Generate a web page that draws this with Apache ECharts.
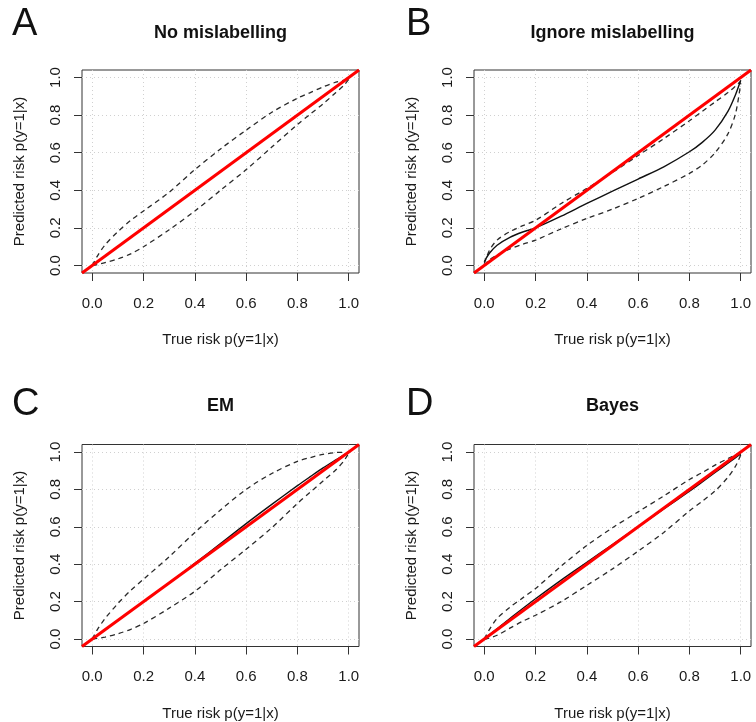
<!DOCTYPE html>
<html>
<head>
<meta charset="utf-8">
<title>Calibration</title>
<script src="https://cdn.jsdelivr.net/npm/echarts@6/dist/echarts.min.js"></script>
<style>
  html, body { margin: 0; padding: 0; background: #fff; }
  #chart { width: 756px; height: 722px; }
</style>
</head>
<body>
<div id="chart"></div>
<script>
  // values
  var panelLetters = ['A', 'B', 'C', 'D']
  var panelTitles = ['No mislabelling', 'Ignore mislabelling', 'EM', 'Bayes']
  var tickValues = [0, 0.2, 0.4, 0.6, 0.8, 1.0]
  var axisRange = [-0.04, 1.04]
  var refLine = [-0.04, 1.04]

  // true risk grid shared by every curve
  var trueRisk = [0, 0.02, 0.05, 0.1, 0.15, 0.2, 0.3, 0.4, 0.5, 0.6, 0.7, 0.8, 0.85, 0.9, 0.95, 0.98, 1.0]

  // A: no mislabelling
  var fitA = [0, 0.02, 0.05, 0.1, 0.15, 0.2, 0.3, 0.4, 0.5, 0.6, 0.7, 0.8, 0.85, 0.9, 0.95, 0.98, 1.0]
  var upperA = [0, 0.05, 0.11, 0.18, 0.24, 0.29, 0.39, 0.51, 0.62, 0.72, 0.815, 0.89, 0.92, 0.95, 0.975, 0.985, 0.99]
  var lowerA = [0, 0.005, 0.015, 0.035, 0.062, 0.10, 0.19, 0.29, 0.40, 0.51, 0.63, 0.75, 0.805, 0.86, 0.92, 0.957, 0.99]

  // B: ignore mislabelling
  var fitB = [0.02, 0.065, 0.108, 0.15, 0.178, 0.2, 0.262, 0.33, 0.395, 0.46, 0.525, 0.605, 0.655, 0.72, 0.82, 0.91, 0.985]
  var upperB = [0.01, 0.08, 0.135, 0.18, 0.212, 0.24, 0.33, 0.41, 0.495, 0.585, 0.675, 0.77, 0.82, 0.87, 0.92, 0.955, 0.98]
  var lowerB = [0, 0.03, 0.055, 0.088, 0.113, 0.135, 0.195, 0.25, 0.30, 0.357, 0.42, 0.49, 0.535, 0.60, 0.70, 0.81, 0.97]

  // C: EM
  var fitC = [0, 0.02, 0.05, 0.1, 0.15, 0.2, 0.3, 0.405, 0.51, 0.617, 0.72, 0.82, 0.868, 0.915, 0.958, 0.983, 1.0]
  var upperC = [0, 0.05, 0.11, 0.19, 0.26, 0.32, 0.44, 0.57, 0.69, 0.80, 0.885, 0.95, 0.97, 0.987, 0.997, 0.998, 0.995]
  var lowerC = [0, 0.003, 0.01, 0.028, 0.052, 0.083, 0.165, 0.255, 0.37, 0.48, 0.595, 0.725, 0.785, 0.845, 0.905, 0.95, 0.995]

  // D: Bayes
  var fitD = [0, 0.022, 0.055, 0.11, 0.163, 0.215, 0.315, 0.41, 0.505, 0.6, 0.695, 0.79, 0.84, 0.89, 0.94, 0.97, 0.99]
  var upperD = [0, 0.05, 0.11, 0.17, 0.22, 0.27, 0.39, 0.50, 0.595, 0.68, 0.765, 0.853, 0.89, 0.93, 0.965, 0.985, 0.995]
  var lowerD = [0, 0.005, 0.02, 0.058, 0.095, 0.127, 0.2, 0.287, 0.375, 0.47, 0.57, 0.685, 0.737, 0.792, 0.865, 0.925, 0.985]

  var fits = [fitA, fitB, fitC, fitD]
  var uppers = [upperA, upperB, upperC, upperD]
  var lowers = [lowerA, lowerB, lowerC, lowerD]

  // plot boxes in pixels
  var boxes = [
    { left: 82, top: 70, width: 277, height: 203 },
    { left: 474, top: 70, width: 277, height: 203 },
    { left: 82, top: 444.5, width: 277, height: 203 },
    { left: 474, top: 444.5, width: 277, height: 203 }
  ]

  var font = "'Liberation Sans', Arial, Helvetica, sans-serif"
  var inkColor = '#1a1a1a'

  function pairs(xs, ys) {
    var out = []
    for (var i = 0; i < xs.length; i++) {
      out.push([xs[i], ys[i]])
    }
    return out
  }

  var grids = []
  var xAxes = []
  var yAxes = []
  var series = []
  var graphics = []

  for (var p = 0; p < 4; p++) {
    var b = boxes[p]
    grids.push({
      left: b.left,
      top: b.top,
      width: b.width,
      height: b.height,
      show: true,
      borderColor: '#333',
      borderWidth: 1,
      containLabel: false
    })
    xAxes.push({
      gridIndex: p,
      type: 'value',
      min: axisRange[0],
      max: axisRange[1],
      name: 'True risk p(y=1|x)',
      nameLocation: 'middle',
      nameGap: 59.5,
      nameTextStyle: { fontFamily: font, fontSize: 15, color: inkColor },
      axisLine: { show: false, onZero: false },
      axisTick: {
        show: true,
        length: 8,
        customValues: tickValues,
        lineStyle: { color: '#333', width: 1 }
      },
      axisLabel: {
        show: true,
        customValues: tickValues,
        margin: 23,
        fontFamily: font,
        fontSize: 15,
        color: inkColor,
        formatter: function (v) { return v.toFixed(1) }
      },
      splitLine: {
        show: true,
        lineStyle: { color: '#d0d0d0', width: 1, type: [1, 3] }
      }
    })
    yAxes.push({
      gridIndex: p,
      type: 'value',
      min: axisRange[0],
      max: axisRange[1],
      name: 'Predicted risk p(y=1|x)',
      nameLocation: 'middle',
      nameGap: 55,
      nameTextStyle: { fontFamily: font, fontSize: 15, color: inkColor },
      axisLine: { show: false, onZero: false },
      axisTick: {
        show: true,
        length: 8,
        customValues: tickValues,
        lineStyle: { color: '#333', width: 1 }
      },
      axisLabel: {
        show: true,
        rotate: 90,
        customValues: tickValues,
        margin: 19,
        fontFamily: font,
        fontSize: 15,
        color: inkColor,
        formatter: function (v) { return v.toFixed(1) }
      },
      splitLine: {
        show: true,
        lineStyle: { color: '#d0d0d0', width: 1, type: [1, 3] }
      }
    })

    series.push({
      type: 'line',
      xAxisIndex: p,
      yAxisIndex: p,
      data: pairs(trueRisk, uppers[p]),
      smooth: 0.3,
      showSymbol: false,
      lineStyle: { color: '#2a2a2a', width: 1.3, type: [5, 4] }
    })
    series.push({
      type: 'line',
      xAxisIndex: p,
      yAxisIndex: p,
      data: pairs(trueRisk, lowers[p]),
      smooth: 0.3,
      showSymbol: false,
      lineStyle: { color: '#2a2a2a', width: 1.3, type: [5, 4] }
    })
    series.push({
      type: 'line',
      xAxisIndex: p,
      yAxisIndex: p,
      data: pairs(trueRisk, fits[p]),
      smooth: 0.3,
      showSymbol: false,
      lineStyle: { color: '#111', width: 1.4 }
    })
    series.push({
      type: 'line',
      xAxisIndex: p,
      yAxisIndex: p,
      data: [[refLine[0], refLine[0]], [refLine[1], refLine[1]]],
      showSymbol: false,
      lineStyle: { color: '#ff0000', width: 3 }
    })

    var cx = b.left + b.width / 2
    var titleY = p < 2 ? 33 : 406.5
    graphics.push({
      type: 'text',
      x: cx,
      y: titleY,
      style: {
        text: panelTitles[p],
        font: 'bold 18px ' + font,
        fill: '#111',
        textAlign: 'center',
        textVerticalAlign: 'middle'
      }
    })
    graphics.push({
      type: 'text',
      x: p % 2 === 0 ? 12 : 406,
      y: p < 2 ? 25 : 405,
      style: {
        text: panelLetters[p],
        font: '38px ' + font,
        fill: '#111',
        textAlign: 'left',
        textVerticalAlign: 'middle'
      }
    })
  }

  var chart = echarts.init(document.getElementById('chart'))
  chart.setOption({
    animation: false,
    backgroundColor: '#fff',
    grid: grids,
    xAxis: xAxes,
    yAxis: yAxes,
    series: series,
    graphic: graphics
  })
</script>
</body>
</html>
